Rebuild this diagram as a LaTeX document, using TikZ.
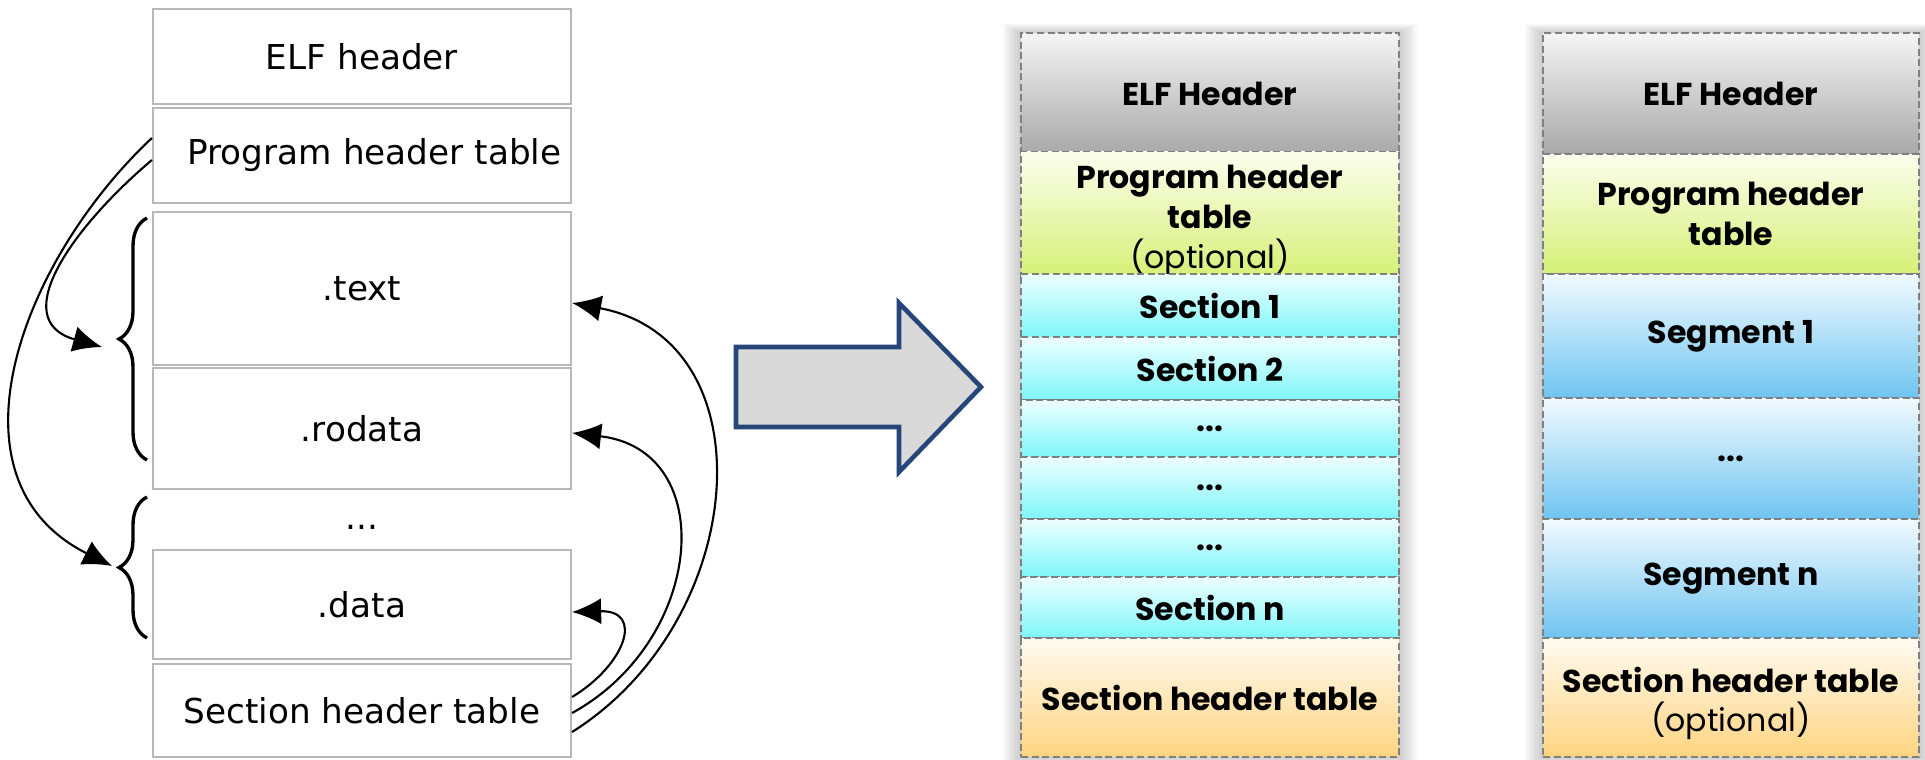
\documentclass[tikz,border=0pt]{standalone}
\usepackage{fontspec}
\newfontfamily\layoutfont{DejaVu Sans}
\newfontfamily\slidefont{Poppins}
\usetikzlibrary{arrows.meta, decorations.pathreplacing, calc, positioning}

\definecolor{arrowblue}{RGB}{38,70,122}
\definecolor{arrowfill}{RGB}{217,217,217}
\definecolor{hdrtop}{RGB}{245,245,245}
\definecolor{hdrbot}{RGB}{168,168,168}
\definecolor{phttop}{RGB}{252,254,238}
\definecolor{phtbot}{RGB}{214,240,118}
\definecolor{sectop}{RGB}{238,255,255}
\definecolor{secbot}{RGB}{126,246,250}
\definecolor{segtop}{RGB}{242,250,255}
\definecolor{segbot}{RGB}{110,196,240}
\definecolor{shttop}{RGB}{255,251,242}
\definecolor{shtbot}{RGB}{255,212,128}

\begin{document}
\begin{tikzpicture}[
    x=0.02cm, y=-0.02cm,
    filebox/.style={rectangle, draw=black!28, line width=1.3pt, minimum width=8.36cm, inner sep=0pt, font=\layoutfont\fontsize{19.5}{23}\selectfont},
    slicebox/.style={rectangle, draw=black!50, dash pattern=on 4pt off 2pt, line width=0.9pt, align=center, inner sep=0pt, font=\slidefont\bfseries\fontsize{18}{22.5}\selectfont},
    midbox/.style={slicebox, minimum width=7.56cm},
    rightbox/.style={slicebox, minimum width=7.52cm},
    brace/.style={decorate, decoration={brace, amplitude=0.56cm, aspect=0.5}, line width=1.9pt},
    link/.style={line width=1.2pt, -{Latex[length=0.58cm, width=0.52cm]}},
    bigarrow/.style={draw=arrowblue, fill=arrowfill, line width=2.6pt, line join=miter}
]
\useasboundingbox (0,0) rectangle (1925,760);

% File layout (left)
\node[filebox, minimum height=1.9cm]  (elf)    at (362,56.5)  {ELF header};
\node[filebox, minimum height=1.9cm]  (pht)    at (362,155.5) {\hspace*{0.5cm}Program header table};
\node[filebox, minimum height=3.06cm] (text)   at (362,288.5) {.text};
\node[filebox, minimum height=2.42cm] (rodata) at (362,428.5) {.rodata};
\node[font=\layoutfont\fontsize{19.5}{23}\selectfont] (gap) at (362,527) {...};
\node[filebox, minimum height=2.18cm] (data)   at (362,604.5) {.data};
\node[filebox, minimum height=1.86cm] (sht)    at (362,710.5) {Section header table};

% Braces
\draw[brace] (147,460) -- (147,218);
\draw[brace] (147,638) -- (147,497);
\coordinate (brA) at (118,339);
\coordinate (brB) at (118,568);

% Program header table -> segments
\draw[link] ([yshift=0.35cm]pht.west) .. controls (20,262) and (-60,480) .. ($(brB)+(-6,-2)$);
\draw[link] ([yshift=-0.09cm]pht.west) .. controls (75,225) and (5,320) .. ($(brA)+(-16,8)$);

% Section header table -> sections
\draw[link] ([yshift=-0.43cm]sht.east) .. controls (750,620) and (770,340) .. ([yshift=-0.29cm]text.east);
\draw[link] ([yshift=-0.05cm]sht.east) .. controls (705,640) and (720,450) .. ([yshift=-0.09cm]rodata.east);
\draw[link] ([yshift=0.27cm]sht.east) .. controls (625,665) and (645,610) .. ([yshift=-0.15cm]data.east);

% Big arrow
\draw[bigarrow] (736,347) -- (899,347) -- (899,303) -- (981,387) -- (899,472) -- (899,427) -- (736,427) -- cycle;

% Soft shadows
\foreach \d in {1,...,9} {
  \fill[black, opacity=0.025] (1021-2*\d,33-\d) rectangle (1399+2*\d,757+\d);
  \fill[black, opacity=0.025] (1543-2*\d,33-\d) rectangle (1919+2*\d,757+\d);
}

% Linking view (middle)
\node[midbox, minimum height=2.42cm, top color=hdrtop, bottom color=hdrbot] (mElf) at (1210,93.5) {ELF Header};
\node[midbox, minimum height=2.4cm, top color=phttop, bottom color=phtbot, font=\slidefont\bfseries\fontsize{18}{22.8}\selectfont] (mPht) at (1210,214) {\rule{0pt}{21pt}Program header\\table\\{\mdseries (optional)}};
\node[midbox, minimum height=1.26cm, top color=sectop, bottom color=secbot] (mSec1) at (1210,305.5) {Section 1};
\node[midbox, minimum height=1.26cm, top color=sectop, bottom color=secbot] (mSec2) at (1210,368.5) {Section 2};
\node[midbox, minimum height=1.14cm, top color=sectop, bottom color=secbot] (mDotsA) at (1210,428.5) {...};
\node[midbox, minimum height=1.24cm, top color=sectop, bottom color=secbot] (mDotsB) at (1210,488) {...};
\node[midbox, minimum height=1.16cm, top color=sectop, bottom color=secbot] (mDotsC) at (1210,548) {...};
\node[midbox, minimum height=1.22cm, top color=sectop, bottom color=secbot] (mSecN) at (1210,607.5) {Section n};
\node[midbox, minimum height=2.38cm, top color=shttop, bottom color=shtbot] (mSht) at (1210,697.5) {Section header table};

% Execution view (right)
\node[rightbox, minimum height=2.42cm, top color=hdrtop, bottom color=hdrbot] (rElf) at (1731,93.5) {ELF Header};
\node[rightbox, minimum height=2.4cm, top color=phttop, bottom color=phtbot] (rPht) at (1731,214) {Program header\\table};
\node[rightbox, minimum height=2.48cm, top color=segtop, bottom color=segbot] (rSeg1) at (1731,336) {Segment 1};
\node[rightbox, minimum height=2.42cm, top color=segtop, bottom color=segbot] (rDots) at (1731,458.5) {...};
\node[rightbox, minimum height=2.38cm, top color=segtop, bottom color=segbot] (rSegN) at (1731,578.5) {Segment n};
\node[rightbox, minimum height=2.38cm, top color=shttop, bottom color=shtbot] (rSht) at (1731,697.5) {\rule{0pt}{21pt}Section header table\\{\mdseries (optional)}};

\end{tikzpicture}
\end{document}
